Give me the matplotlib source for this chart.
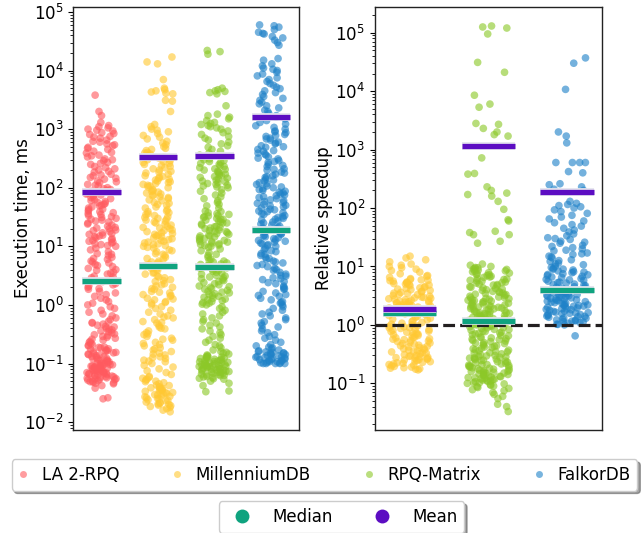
import numpy as np
import pandas as pd
import matplotlib
matplotlib.use("Agg")
import matplotlib.pyplot as plt
import matplotlib.patheffects as pe
from matplotlib.lines import Line2D
import seaborn as sns

# ---------------- data ----------------
CATEGORIES = ["LA 2-RPQ", "MillenniumDB", "RPQ-Matrix", "FalkorDB"]
SPEEDUP_CATEGORIES = ["MillenniumDB", "RPQ-Matrix", "FalkorDB"]
COLORS = ["#ff5a5f", "#ffc833", "#8cc828", "#1f82c8"]
MEDIAN_COLOR = "#0fa37f"
MEAN_COLOR = "#5c0dc2"

TIME_LA2RPQ = [
    0.025, 0.026, 0.038, 0.042,
    0.045, 0.047, 0.049, 0.05, 0.052, 0.054, 0.056, 0.058, 0.06, 0.062, 0.065, 0.068,
    0.07, 0.073, 0.075, 0.078, 0.081, 0.084, 0.087, 0.09, 0.093, 0.096,
    0.046, 0.048, 0.051, 0.053, 0.055, 0.057, 0.059, 0.061, 0.064, 0.066, 0.069, 0.071,
    0.074, 0.077, 0.08, 0.083, 0.086, 0.089, 0.092, 0.095, 0.098,
    0.055, 0.063, 0.072, 0.082, 0.091, 0.099, 0.067, 0.079,
    0.1, 0.103, 0.107, 0.11, 0.114, 0.118, 0.122, 0.126, 0.13, 0.135, 0.14, 0.145, 0.15,
    0.155, 0.16, 0.165, 0.17, 0.178, 0.185, 0.19, 0.2, 0.205, 0.21, 0.22, 0.23, 0.24,
    0.25, 0.26, 0.27, 0.28, 0.29, 0.3, 0.31, 0.32, 0.335, 0.35, 0.36, 0.375, 0.39, 0.4,
    0.42, 0.43, 0.45, 0.47, 0.49, 0.5,
    0.52, 0.56, 0.6, 0.65, 0.7, 0.75, 0.81, 0.87, 0.93,
    0.102, 0.112, 0.12, 0.132, 0.142, 0.152, 0.162, 0.175, 0.188,
    1.0, 1.07, 1.14, 1.22, 1.3, 1.4, 1.5, 1.6, 1.7, 1.85, 2.0, 2.1, 2.3, 2.5, 2.7, 2.9,
    3.1, 3.35, 3.6, 3.9, 4.2, 4.5, 4.9, 5.2, 5.6, 6.0, 6.5, 7.0, 7.5, 8.1, 8.7, 9.3,
    1.9, 2.2, 2.6, 3.0, 3.5, 4.0, 4.7, 5.4, 6.2, 7.3,
    10, 10.3, 10.7, 11, 11.4, 11.8, 12.2, 12.6, 13, 13.5, 14, 14.5, 15, 15.5, 16, 16.5,
    17, 17.8, 18.5, 19, 20, 20.5, 21, 22, 23, 24, 25, 26, 27, 28, 29, 30, 31, 32, 33.5,
    35, 36, 37.5, 39, 40, 42, 43, 45, 47, 49, 50, 52, 54, 56, 58, 60, 62, 65, 68, 70,
    73, 75, 78, 81, 84, 87, 90, 93, 96,
    100, 107, 114, 122, 130, 140, 150, 160, 170, 185, 200, 210, 230, 250, 270, 290,
    310, 335, 360, 390, 420, 450, 490,
    110, 126, 145, 165, 190, 220, 260, 300, 350, 400, 470,
    520, 560, 600, 650, 700, 750, 810, 870, 930, 540, 620, 730, 840, 960,
    1000, 1050, 1100, 1150, 1300, 1700, 2000, 3800,
]
TIME_MILLENNIUMDB = [
    0.015, 0.016, 0.017,
    0.0178, 0.0185, 0.019, 0.02, 0.0205, 0.021, 0.022, 0.023, 0.024, 0.025, 0.026,
    0.027, 0.028, 0.029, 0.03, 0.031, 0.032, 0.0335, 0.035, 0.036, 0.0375, 0.039, 0.04,
    0.042, 0.043, 0.045, 0.047, 0.049, 0.05, 0.052, 0.054, 0.056, 0.058, 0.06,
    0.0195, 0.0215, 0.0235, 0.0255, 0.0275, 0.0295, 0.0315, 0.034, 0.0365, 0.0385,
    0.065, 0.07, 0.075, 0.081, 0.087, 0.093,
    0.1, 0.107, 0.114, 0.122, 0.13, 0.14, 0.15, 0.16, 0.17, 0.185, 0.2, 0.21, 0.23,
    0.25, 0.27, 0.29, 0.31, 0.335, 0.36, 0.39, 0.42, 0.45, 0.49, 0.52, 0.56, 0.6, 0.65,
    0.7, 0.75, 0.81, 0.87, 0.93,
    0.11, 0.126, 0.145, 0.178, 0.22, 0.26, 0.32, 0.4, 0.5, 0.62,
    1.0, 1.07, 1.14, 1.22, 1.3, 1.4, 1.5, 1.6, 1.7, 1.85, 2.0, 2.1, 2.3, 2.5, 2.7, 2.9,
    3.1, 3.35, 3.6, 3.9, 4.2, 4.5, 4.9, 5.2, 5.6, 6.0, 6.5, 7.0, 7.5, 8.1, 8.7, 9.3,
    1.1, 1.26, 1.45, 1.65, 1.9, 2.2, 2.6, 3.0, 3.5, 4.0, 4.7, 5.4, 6.2, 7.3, 8.4, 9.6,
    10, 10.3, 10.7, 11, 11.4, 11.8, 12.2, 12.6, 13, 13.5, 14, 14.5, 15, 15.5, 16, 16.5,
    17, 17.8, 18.5, 19, 20, 20.5, 21, 22, 23, 24, 25, 26, 27, 28, 29, 30, 31, 32, 33.5,
    35, 36, 37.5, 39, 40, 42, 45, 47, 50, 52, 54, 56, 60, 62, 65, 68, 70, 73, 75, 78,
    81, 84, 87, 90, 93,
    100, 103, 107, 110, 114, 118, 122, 126, 130, 135, 140, 145, 150, 155, 160, 170, 178,
    185, 190, 200, 210, 220, 230, 240, 250, 260, 270, 280, 290, 300, 320, 335, 350, 375,
    390, 400, 430, 450, 470, 500, 540, 580, 620, 680, 730, 780, 840, 900, 960, 1000,
    1100, 1200, 2000, 3000, 3100, 4000, 4100, 4300, 4500, 4700, 5000, 7000, 13000,
    14000, 17000,
]
TIME_RPQMATRIX = [
    0.033, 0.034, 0.042, 0.046, 0.05,
    0.054, 0.056, 0.058, 0.06, 0.062, 0.065, 0.068, 0.07, 0.073, 0.075, 0.078, 0.081,
    0.084, 0.087, 0.09, 0.093, 0.096,
    0.055, 0.059, 0.063, 0.066, 0.069, 0.071, 0.074, 0.077, 0.08, 0.083, 0.086, 0.089,
    0.092, 0.095, 0.098, 0.064, 0.072, 0.082, 0.091, 0.099, 0.079, 0.088,
    0.1, 0.103, 0.107, 0.11, 0.114, 0.118, 0.122, 0.126, 0.13, 0.135, 0.14, 0.145, 0.15,
    0.155, 0.16, 0.102, 0.105, 0.108, 0.112, 0.116, 0.12, 0.124, 0.128, 0.132,
    0.17, 0.185, 0.2, 0.21, 0.23, 0.25, 0.27, 0.29, 0.31, 0.335, 0.36, 0.39, 0.42, 0.45,
    0.49, 0.52, 0.56, 0.6, 0.65, 0.7, 0.75, 0.81, 0.87, 0.93,
    1.0, 1.03, 1.07, 1.1, 1.14, 1.18, 1.22, 1.26, 1.3, 1.35, 1.4, 1.45, 1.5, 1.55, 1.6,
    1.65, 1.7, 1.78, 1.85, 1.9, 2.0, 2.05, 2.1, 2.2, 2.3, 2.4, 2.5, 2.6, 2.7, 2.8, 2.9,
    3.0, 3.1, 3.2, 3.35, 3.5, 3.6, 3.75, 3.9, 4.0, 4.2, 4.3, 4.5, 4.7, 4.9, 5.0, 5.2,
    5.4, 5.6, 5.8, 6.0, 6.5, 7.0, 7.3, 7.8, 8.4, 9.0, 9.6,
    10, 10.3, 10.7, 11, 11.4, 11.8, 12.2, 12.6, 13, 13.5, 14, 14.5, 15, 15.5, 16, 16.5,
    17, 17.8, 18.5, 19, 20, 20.5, 21, 22, 23, 24, 25, 26, 27, 28, 29, 30, 31, 32, 33.5,
    35, 36, 37.5, 39, 40, 10.5, 12, 15, 18, 21.5, 25, 29, 33,
    45, 49, 52, 56, 60, 65, 70, 75, 81, 87, 93,
    100, 103, 107, 110, 114, 118, 122, 126, 130, 135, 140, 145, 150, 155, 160, 165, 170,
    178, 185, 190, 200, 205, 210, 220, 230, 240, 250, 260, 270, 280, 290, 300,
    310, 335, 360, 390, 420, 450, 490, 520, 560, 600, 650, 700, 750, 810, 870, 930,
    1000, 1050, 1100, 1150, 1200, 1250, 1300, 1400, 1500, 1600, 1700, 1800, 2500,
    4000, 4200, 4400, 4500, 4700, 5000, 19000, 21000, 22000,
]
TIME_FALKORDB = [
    0.1, 0.1, 0.1, 0.1,
    0.1, 0.103, 0.107, 0.11, 0.114, 0.118, 0.122, 0.126, 0.13, 0.135, 0.14, 0.145, 0.15,
    0.155, 0.16, 0.165, 0.17, 0.178, 0.185, 0.19, 0.2,
    0.102, 0.105, 0.108, 0.112, 0.116, 0.12, 0.124, 0.128, 0.132, 0.138, 0.142, 0.148,
    0.152, 0.158,
    0.21, 0.23, 0.25, 0.27, 0.29, 0.31, 0.335, 0.36, 0.39, 0.42, 0.45, 0.49, 0.52, 0.56,
    0.6, 0.65, 0.7, 0.75, 0.81, 0.87, 0.93,
    1.0, 1.07, 1.14, 1.22, 1.3, 1.4, 1.5, 1.6, 1.7, 1.85, 2.0, 2.1, 2.3, 2.5, 2.7, 2.9,
    3.1, 3.35, 3.6, 3.9, 4.2, 4.5, 4.9, 5.2, 5.6, 6.0, 6.5, 7.0, 7.5, 8.1, 8.7, 9.3,
    1.1, 1.45, 1.9, 2.4, 2.8, 3.2, 4.0, 4.7, 5.4, 6.2, 7.3, 8.4,
    10, 10.3, 10.7, 11, 11.4, 11.8, 12.2, 12.6, 13, 13.5, 14, 14.5, 15, 15.5, 16, 16.5,
    17, 17.8, 18.5, 19, 20, 20.5, 21, 22, 23, 24, 25, 26, 27, 28, 29, 30, 31, 32, 33.5,
    35, 36, 37.5, 39, 40, 42, 43, 45, 47, 49, 50, 52, 54, 56, 58, 60, 62, 65, 68, 70,
    73, 75, 78, 81, 84, 87, 90, 93, 96,
    100, 107, 114, 122, 130, 140, 150, 160, 170, 185, 200, 210, 230, 250, 270, 290,
    310, 335, 360, 390, 420, 450, 490, 520, 560, 600, 650, 700, 750, 810, 870, 930,
    103, 118, 135, 155, 178, 205, 240, 280, 320, 375, 430, 500, 580, 680, 780, 900,
    1000, 1070, 1140, 1220, 1300, 1400, 1500, 1600, 1700, 1850, 2000, 2100, 2300, 2500,
    2700, 2900, 3100, 3350, 3600, 3900, 4200, 4500, 4900, 5200, 5600, 6000, 6500, 7000,
    7500, 8100, 8700, 9300,
    10000, 10500, 11000, 12000, 13000, 15000, 16000, 27000, 30000, 33000, 36000, 38000,
    42000, 43000, 45000, 50000, 55000, 58000, 60000,
]

SPEEDUP_MILLENNIUMDB = [
    0.17, 0.178, 0.185, 0.19, 0.2, 0.205, 0.21, 0.22, 0.23, 0.24, 0.25, 0.26, 0.27, 0.28,
    0.29, 0.3, 0.175, 0.182, 0.195, 0.215, 0.225, 0.235, 0.245, 0.255, 0.265, 0.275,
    0.285, 0.295,
    0.31, 0.32, 0.335, 0.35, 0.36, 0.375, 0.39, 0.4, 0.42, 0.43, 0.45, 0.47, 0.49, 0.5,
    0.52, 0.54, 0.56, 0.58, 0.6, 0.62, 0.65, 0.68, 0.7, 0.73, 0.75, 0.78, 0.81, 0.84,
    0.87, 0.9, 0.93, 0.96,
    0.33, 0.345, 0.37, 0.41, 0.44, 0.48, 0.53, 0.57, 0.61, 0.66, 0.72, 0.77, 0.83, 0.89,
    0.95,
    1.0, 1.03, 1.07, 1.1, 1.14, 1.18, 1.22, 1.26, 1.3, 1.35, 1.4, 1.45, 1.5, 1.55, 1.6,
    1.65, 1.7, 1.78, 1.85, 1.9, 2.0, 2.05, 2.1, 2.2, 2.3, 2.4, 2.5, 2.6, 2.7, 2.8, 2.9,
    3.0, 1.62, 1.68, 1.75, 1.82, 1.88, 1.95, 2.02, 2.08, 2.15, 2.25, 2.35, 2.45, 2.55,
    2.65, 2.75, 2.85, 2.95, 1.72, 2.12, 2.42,
    3.1, 3.2, 3.35, 3.5, 3.6, 3.75, 3.9, 4.0, 4.2, 4.3, 4.5, 4.7, 4.9, 5.0, 5.2, 5.4,
    5.6, 5.8, 6.0, 3.3, 3.45, 3.7, 4.1, 4.4, 4.8, 5.1, 5.3, 5.7, 5.9,
    6.2, 6.5, 6.8, 7.0, 7.5, 8.0, 8.5, 9.0, 9.5, 10, 10.5, 11, 12, 13, 14, 15,
]
SPEEDUP_RPQMATRIX = [
    0.033, 0.04, 0.044, 0.055, 0.06, 0.065, 0.07, 0.075, 0.078, 0.082, 0.085, 0.088,
    0.09, 0.093, 0.095, 0.098,
    0.1, 0.103, 0.107, 0.11, 0.114, 0.118, 0.122, 0.126, 0.13, 0.135, 0.14, 0.145, 0.15,
    0.155, 0.16, 0.165, 0.17, 0.178, 0.185, 0.19, 0.2, 0.205, 0.21, 0.22, 0.23, 0.24,
    0.25, 0.26, 0.27, 0.28, 0.29, 0.3,
    0.102, 0.108, 0.112, 0.116, 0.12, 0.124, 0.128, 0.132, 0.138, 0.142, 0.148, 0.152,
    0.158, 0.162, 0.168, 0.175, 0.182, 0.188, 0.195, 0.202, 0.208, 0.215, 0.225, 0.235,
    0.245, 0.255, 0.265, 0.275, 0.285, 0.295,
    0.31, 0.32, 0.335, 0.35, 0.36, 0.375, 0.39, 0.4, 0.42, 0.43, 0.45, 0.47, 0.49, 0.5,
    0.52, 0.54, 0.56, 0.58, 0.6, 0.62, 0.65, 0.68, 0.7, 0.73, 0.75, 0.78, 0.81, 0.84,
    0.87, 0.9, 0.93, 0.96,
    0.33, 0.345, 0.37, 0.41, 0.44, 0.48, 0.53, 0.57, 0.61, 0.66, 0.72, 0.77, 0.83, 0.89,
    0.95,
    1.0, 1.03, 1.07, 1.1, 1.14, 1.18, 1.22, 1.26, 1.3, 1.35, 1.4, 1.45, 1.5, 1.55, 1.6,
    1.65, 1.7, 1.78, 1.85, 1.9, 2.0, 2.05, 2.1, 2.2, 2.3, 2.4, 2.5, 2.6, 2.7, 2.8, 2.9,
    3.0, 1.02, 1.05, 1.12, 1.16, 1.2, 1.24, 1.28, 1.32, 1.38, 1.42, 1.48, 1.52, 1.58,
    1.62, 1.68, 1.75, 1.82, 1.88, 1.95, 2.02, 2.08, 2.15, 2.25, 2.35, 2.45, 2.55, 2.65,
    2.75, 2.85, 2.95,
    3.1, 3.2, 3.35, 3.5, 3.6, 3.75, 3.9, 4.0, 4.2, 4.3, 4.5, 4.7, 4.9, 5.0, 5.2, 5.4,
    5.6, 5.8, 6.0, 6.2, 6.5, 6.8, 7.0, 7.3, 7.5, 7.8, 8.1, 8.4, 8.7, 9.0, 9.3, 9.6,
    3.3, 3.45, 3.7, 4.1, 4.4, 4.8, 5.3, 5.7, 6.1, 6.6, 7.2, 7.7, 8.3, 8.9, 9.5, 10, 10.5,
    11,
    25, 27, 35, 35, 38, 40, 60, 63, 95, 130, 160, 170, 180, 200, 230, 380, 390, 720,
    1700, 1800, 2000, 2300, 2700, 2800, 5300, 6000, 8500, 21000, 31000, 95000, 120000,
    125000, 130000,
]
SPEEDUP_FALKORDB = [
    0.65,
    1.0, 1.03, 1.07, 1.1, 1.14, 1.18, 1.22, 1.26, 1.3, 1.35, 1.4, 1.45, 1.5, 1.55, 1.6,
    1.65, 1.7, 1.78, 1.85, 1.9, 2.0,
    1.02, 1.12, 1.2, 1.32, 1.42, 1.52, 1.62, 1.72, 1.82, 1.95, 1.16, 1.38, 1.58, 1.88,
    2.05, 2.1, 2.2, 2.3, 2.4, 2.5, 2.6, 2.7, 2.8, 2.9, 3.0, 3.1, 3.2, 3.35, 3.5, 3.6,
    3.75, 3.9, 4.0,
    2.08, 2.15, 2.25, 2.35, 2.45, 2.55, 2.65, 2.75, 2.85, 2.95, 3.05, 3.15, 3.3, 3.45,
    3.55, 3.7, 3.85, 3.95, 2.18,
    4.2, 4.3, 4.5, 4.7, 4.9, 5.0, 5.2, 5.4, 5.6, 5.8, 6.0, 6.2, 6.5, 6.8, 7.0, 7.3, 7.5,
    7.8, 8.1, 8.4, 8.7, 9.0, 9.3, 9.6, 4.4, 4.8, 5.3, 5.9, 6.6, 7.2, 8.0, 8.9,
    10, 10.7, 11.4, 12.2, 13, 14, 15, 16, 17, 18.5, 20, 21, 23, 25, 27, 29, 11, 12.6,
    14.5, 16.5, 19, 22, 26, 30,
    31, 33.5, 36, 39, 42, 45, 49, 52, 56, 60, 65, 70, 75, 81, 87, 93,
    100, 105, 110, 115, 120, 130,
    200, 210, 230, 250, 260, 400, 420, 600, 600, 600, 600, 1300, 1700, 2000, 10700,
    30000, 37000,
]

TIME_MEDIAN = [2.6, 4.6, 4.4, 19]
TIME_MEAN = [85, 330, 353, 1640]
SPEEDUP_MEDIAN = [1.6, 1.17, 3.98]
SPEEDUP_MEAN = [1.86, 1150, 185]

# ---------------- plotting ----------------
np.random.seed(3)
fig = plt.figure(figsize=(6.43, 5.33), dpi=100)
ax1 = fig.add_axes([0.114, 0.193, 0.351, 0.794])
ax2 = fig.add_axes([0.583, 0.193, 0.353, 0.794])

time_series = [TIME_LA2RPQ, TIME_MILLENNIUMDB, TIME_RPQMATRIX, TIME_FALKORDB]
speed_series = [SPEEDUP_MILLENNIUMDB, SPEEDUP_RPQMATRIX, SPEEDUP_FALKORDB]

df1 = pd.DataFrame({
    "cat": np.concatenate([[c] * len(v) for c, v in zip(CATEGORIES, time_series)]),
    "val": np.concatenate(time_series),
})
df2 = pd.DataFrame({
    "cat": np.concatenate([[c] * len(v) for c, v in zip(SPEEDUP_CATEGORIES, speed_series)]),
    "val": np.concatenate(speed_series),
})

pal = dict(zip(CATEGORIES, COLORS))

for ax, df, cats in [(ax1, df1, CATEGORIES), (ax2, df2, SPEEDUP_CATEGORIES)]:
    ax.set_yscale("log")
    sns.stripplot(data=df, x="cat", y="val", hue="cat", order=cats, hue_order=cats,
                  palette=pal, jitter=0.27, size=5.5, alpha=0.62, linewidth=0,
                  legend=False, ax=ax, zorder=2)

outline = [pe.Stroke(linewidth=5.6, foreground="#e4e4ee"), pe.Normal()]

def stat_lines(ax, med, mean, n):
    for i in range(n):
        ax.hlines(med[i], i - 0.34, i + 0.34, colors=MEDIAN_COLOR, lw=3.8,
                  zorder=5, path_effects=outline)
        ax.hlines(mean[i], i - 0.34, i + 0.34, colors=MEAN_COLOR, lw=3.8,
                  zorder=5, path_effects=outline)

stat_lines(ax1, TIME_MEDIAN, TIME_MEAN, 4)
stat_lines(ax2, SPEEDUP_MEDIAN, SPEEDUP_MEAN, 3)

ax2.axhline(1.0, color="#231f20", lw=2.3, ls="--", zorder=4)

ax1.set_xlim(-0.5, 3.5)
ax1.set_ylim(10 ** -2.137, 10 ** 5.085)
ax2.set_xlim(-0.44, 2.44)
ax2.set_ylim(10 ** -1.80, 10 ** 5.44)

ax1.set_ylabel("Execution time, ms", fontsize=12)
ax2.set_ylabel("Relative speedup", fontsize=12)
ax1.yaxis.set_label_coords(-0.185, 0.5)
ax2.yaxis.set_label_coords(-0.186, 0.5)
for ax in (ax1, ax2):
    ax.set_xlabel("")
    ax.set_xticks([])
    ax.tick_params(axis="y", labelsize=12)
    for s in ax.spines.values():
        s.set_color("#222222")
        s.set_linewidth(1.0)

# legends
h1 = [Line2D([], [], ls="", marker="o", markersize=5, markerfacecolor=c,
             markeredgewidth=0, alpha=0.6) for c in COLORS]
fig.legend(h1, CATEGORIES, loc="center", bbox_to_anchor=(0.5047, 0.1088),
           ncol=4, fontsize=12, shadow=True, handlelength=0.6,
           handletextpad=0.8, columnspacing=3.2, framealpha=1)
h2 = [Line2D([], [], ls="", marker="o", markersize=10, markerfacecolor=c,
             markeredgewidth=0) for c in (MEDIAN_COLOR, MEAN_COLOR)]
fig.legend(h2, ["Median", "Mean"], loc="center", bbox_to_anchor=(0.531, 0.030),
           ncol=2, fontsize=12, shadow=True, framealpha=1)

fig.savefig("out.png", dpi=100)
